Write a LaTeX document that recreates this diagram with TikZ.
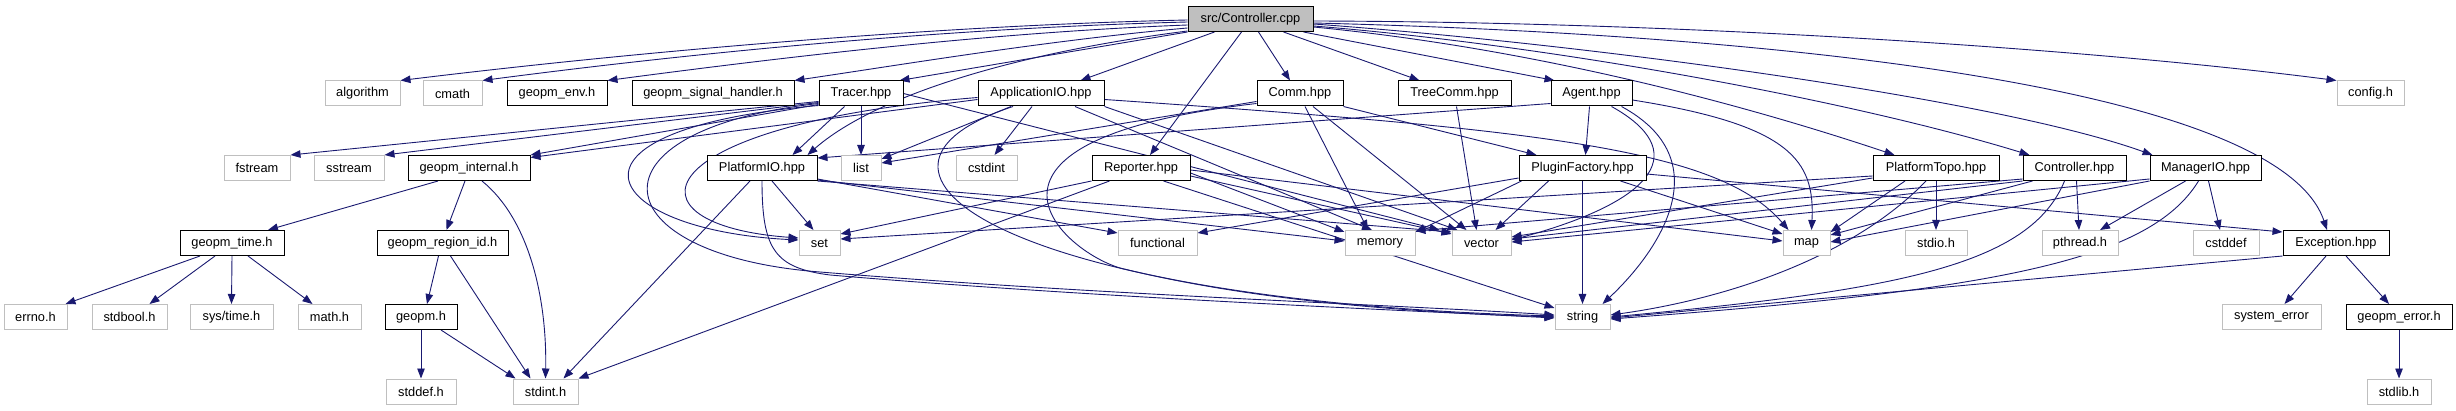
\documentclass[tikz,border=0pt]{standalone}
\usepackage{fontspec}
\setmainfont{Liberation Sans}
\usetikzlibrary{arrows.meta}
\definecolor{edgec}{HTML}{191970}
\definecolor{grayb}{HTML}{BFBFBF}
\pgfdeclarelayer{background}
\pgfsetlayers{background,main}
\begin{document}
\begin{tikzpicture}[x=1pt,y=1pt,
  box/.style={draw=black, line width=1pt, minimum height=25pt, inner sep=0pt, fill=white,
    font=\fontsize{12.8}{15}\selectfont},
  sys/.style={box, draw=grayb},
  root/.style={box, fill=grayb},
  e/.style={draw=edgec, line width=0.9pt, -{Triangle[length=10pt,width=7.5pt]}},
]
\useasboundingbox (0,0) rectangle (2456,-411);
% row 0
\node[root, minimum width=125pt] (C) at (1250.5,-19) {src/Controller.cpp};
% row 1
\node[sys, minimum width=75pt] (algorithm) at (362.5,-93.5) {algorithm};
\node[sys, minimum width=59pt] (cmath) at (452.5,-93.5) {cmath};
\node[box, minimum width=100pt] (env) at (557,-93.5) {geopm\_env.h};
\node[box, minimum width=162pt] (signal) at (713,-93.5) {geopm\_signal\_handler.h};
\node[box, minimum width=84pt] (tracer) at (861,-93.5) {Tracer.hpp};
\node[box, minimum width=126pt] (appio) at (1041,-93.5) {ApplicationIO.hpp};
\node[box, minimum width=86pt] (comm) at (1300,-93.5) {Comm.hpp};
\node[box, minimum width=113pt] (treecomm) at (1454.5,-93.5) {TreeComm.hpp};
\node[box, minimum width=81pt] (agent) at (1591.5,-93.5) {Agent.hpp};
\node[sys, minimum width=67pt] (config) at (2370.5,-93.5) {config.h};
% row 2
\node[sys, minimum width=66pt] (fstream) at (257,-168) {fstream};
\node[sys, minimum width=70pt] (sstream) at (349,-168) {sstream};
\node[box, minimum width=122pt] (internal) at (469,-168) {geopm\_internal.h};
\node[box, minimum width=110pt] (pio) at (762,-168) {PlatformIO.hpp};
\node[sys, minimum width=40pt] (list) at (861,-168) {list};
\node[sys, minimum width=61pt] (cstdint) at (986.5,-168) {cstdint};
\node[box, minimum width=98pt] (reporter) at (1141,-168) {Reporter.hpp};
\node[box, minimum width=127pt] (pfac) at (1582.5,-168) {PluginFactory.hpp};
\node[box, minimum width=126pt] (ptopo) at (1936,-168) {PlatformTopo.hpp};
\node[box, minimum width=103pt] (ctrl) at (2074.5,-168) {Controller.hpp};
\node[box, minimum width=111pt] (mio) at (2205.5,-168) {ManagerIO.hpp};
% row 3
\node[box, minimum width=104pt] (time) at (232,-243) {geopm\_time.h};
\node[box, minimum width=131pt] (regid) at (442.5,-243) {geopm\_region\_id.h};
\node[sys, minimum width=41pt] (set) at (819.5,-243) {set};
\node[sys, minimum width=79pt] (functional) at (1157.5,-243) {functional};
\node[sys, minimum width=70pt] (memory) at (1380,-243) {memory};
\node[sys, minimum width=59pt] (vector) at (1481.5,-243) {vector};
\node[sys, minimum width=47pt] (map) at (1806.5,-243) {map};
\node[sys, minimum width=62pt] (stdio) at (1936,-243) {stdio.h};
\node[sys, minimum width=76pt] (pthread) at (2080,-243) {pthread.h};
\node[sys, minimum width=66pt] (cstddef) at (2226,-243) {cstddef};
\node[box, minimum width=106pt] (exc) at (2336,-243) {Exception.hpp};
% row 4
\node[sys, minimum width=63pt] (errno) at (35.5,-317) {errno.h};
\node[sys, minimum width=75pt] (stdbool) at (129.5,-317) {stdbool.h};
\node[sys, minimum width=83pt] (systime) at (231.5,-317) {sys/time.h};
\node[sys, minimum width=63pt] (math) at (329.5,-317) {math.h};
\node[box, minimum width=72pt] (geopmh) at (421,-317) {geopm.h};
\node[sys, minimum width=55pt] (string) at (1582.5,-317) {string};
\node[sys, minimum width=99pt] (syserr) at (2271.5,-317) {system\_error};
\node[box, minimum width=106pt] (gerr) at (2399,-317) {geopm\_error.h};
% row 5
\node[sys, minimum width=70pt] (stddef) at (421,-391.5) {stddef.h};
\node[sys, minimum width=65pt] (stdint) at (545.5,-391.5) {stdint.h};
\node[sys, minimum width=64pt] (stdlib) at (2399,-391.5) {stdlib.h};

\begin{pgfonlayer}{background}
% src/Controller.cpp
\draw[e] ([yshift=-1pt]C.west) .. controls (950,-25) and (650,-50) .. (algorithm.north east);
\draw[e] ([yshift=-3pt]C.west) .. controls (950,-28) and (700,-52) .. (cmath.north east);
\draw[e] ([yshift=-6pt]C.west) .. controls (1000,-32) and (800,-55) .. (env.north east);
\draw[e] ([yshift=-9pt]C.west) .. controls (1050,-40) and (900,-65) .. (signal.north east);
\draw[e] (C.south west) -- ([xshift=-4pt]tracer.north east);
\draw[e] ([yshift=1pt]C.south west) .. controls (1000,-55) and (870,-100) .. ([xshift=-10pt]pio.north east);
\draw[e] ([xshift=27pt]C.south west) -- ([xshift=-24pt]appio.north east);
\draw[e] ([xshift=-9pt]C.south) -- ([xshift=9pt]reporter.north);
\draw[e] ([xshift=8pt]C.south) -- ([xshift=-10pt]comm.north);
\draw[e] ([xshift=33pt]C.south) -- ([xshift=-35pt]treecomm.north);
\draw[e] ([xshift=-10pt]C.south east) -- ([xshift=4pt]agent.north west);
\draw[e] ([yshift=-8pt]C.east) .. controls (1500,-45) and (1700,-90) .. ([xshift=22pt]ptopo.north west);
\draw[e] ([yshift=-7pt]C.east) .. controls (1550,-45) and (1850,-100) .. ([xshift=7pt]ctrl.north west);
\draw[e] ([yshift=-5pt]C.east) .. controls (1600,-45) and (2000,-100) .. ([xshift=3pt]mio.north west);
\draw[e] ([yshift=-2pt]C.east) .. controls (1700,-22) and (2100,-50) .. (config.north west);
\draw[e] ([yshift=-4pt]C.east) .. controls (1800,-35) and (2280,-90) .. ([xshift=-9pt]exc.north);
% Tracer.hpp
\draw[e] ([yshift=5pt]tracer.south west) -- (fstream.north east);
\draw[e] ([yshift=4pt]tracer.south west) -- (sstream.north east);
\draw[e] ([yshift=2pt]tracer.south west) -- (internal.north east);
\draw[e] ([xshift=26pt]tracer.south west) -- ([xshift=-25pt]pio.north east);
\draw[e] (tracer.south) -- (list.north);
\draw[e] ([yshift=1pt]tracer.south west) .. controls (540,-130) and (600,-230) .. ([yshift=3pt]set.west);
\draw[e] ([yshift=3pt]tracer.south west) .. controls (580,-130) and (600,-255) .. (820,-272)
   .. controls (1100,-295) and (1400,-305) .. ([yshift=2pt]string.west);
\draw[e] (tracer.east) -- ([xshift=-12pt]vector.north west);
% ApplicationIO.hpp
\draw[e] ([yshift=-6pt]appio.west) -- ([yshift=-2.5pt]internal.north east);
\draw[e] ([yshift=-4pt]appio.west) .. controls (640,-125) and (620,-225) .. ([yshift=5pt]set.west);
\draw[e] ([xshift=-30pt]appio.south) -- ([yshift=-4pt]list.north east);
\draw[e] ([xshift=-9pt]appio.south) -- ([xshift=8pt]cstdint.north);
\draw[e] ([xshift=-28pt]appio.south) .. controls (820,-170) and (1000,-300) .. ([yshift=1pt]string.west);
\draw[e] ([xshift=34pt]appio.south) -- ([xshift=-8pt]memory.north);
\draw[e] (appio.south east) -- ([xshift=6pt]vector.north west);
\draw[e] ([yshift=-6pt]appio.east) .. controls (1550,-130) and (1720,-150) .. ([xshift=6pt]map.north west);
% Comm.hpp
\draw[e] ([yshift=5pt]comm.south west) -- ([yshift=-8pt]list.north east);
\draw[e] (comm.south east) -- ([xshift=18pt]pfac.north west);
\draw[e] ([xshift=5pt]comm.south) -- ([xshift=-12pt]memory.north);
\draw[e] ([xshift=13pt]comm.south) -- ([xshift=-15pt]vector.north);
\draw[e] ([yshift=3pt]comm.south west) .. controls (940,-140) and (1060,-250) .. (1120,-268)
   .. controls (1250,-300) and (1400,-312) .. (string.west);
% TreeComm.hpp
\draw[e] ([xshift=2pt]treecomm.south) -- ([xshift=-5pt]vector.north);
% Agent.hpp
\draw[e] ([xshift=-2pt]agent.south) -- ([xshift=3pt]pfac.north);
\draw[e] ([yshift=3pt]agent.south west) -- ([yshift=-3pt]pio.north east);
\draw[e] ([xshift=20pt]agent.south) .. controls (1690,-150) and (1660,-200) .. ([yshift=3pt]vector.east);
\draw[e] ([xshift=30pt]agent.south) .. controls (1720,-160) and (1660,-250) .. ([xshift=-8pt]string.north east);
\draw[e] ([yshift=-6.5pt]agent.east) .. controls (1790,-125) and (1815,-160) .. ([xshift=5pt]map.north);
% PluginFactory.hpp
\draw[e] ([yshift=3pt]pfac.south west) -- ([yshift=-3pt]functional.north east);
\draw[e] ([xshift=3pt]pfac.south west) -- ([yshift=-2pt]memory.north east);
\draw[e] ([xshift=30pt]pfac.south west) -- ([xshift=14pt]vector.north);
\draw[e] (pfac.south) -- (string.north);
\draw[e] ([xshift=38pt]pfac.south) -- ([yshift=-4pt]map.north west);
\draw[e] ([yshift=-6pt]pfac.east) -- ([yshift=-2pt]exc.north west);
% Reporter.hpp
\draw[e] (reporter.south west) -- ([yshift=-4pt]set.north east);
\draw[e] ([xshift=18pt]reporter.south west) -- (stdint.north east);
\draw[e] ([xshift=-27pt]reporter.south east) -- ([yshift=-4pt]string.north west);
\draw[e] ([yshift=-5pt]reporter.east) -- ([yshift=-2pt]memory.north west);
\draw[e] ([yshift=-8pt]reporter.east) -- ([yshift=-4pt]vector.north west);
\draw[e] ([yshift=-2pt]reporter.east) -- ([yshift=2pt]map.west);
% PlatformIO.hpp
\draw[e] ([xshift=-12pt]pio.south) -- ([xshift=-15pt]stdint.north east);
\draw[e] ([xshift=10pt]pio.south) -- ([xshift=-6pt]set.north);
\draw[e] (pio.south) .. controls (762,-250) and (775,-268) .. (830,-275)
   .. controls (1100,-298) and (1400,-310) .. ([yshift=-1pt]string.west);
\draw[e] ([yshift=2pt]pio.south east) -- ([yshift=-3pt]functional.north west);
\draw[e] ([yshift=1pt]pio.south east) -- ([yshift=2pt]memory.west);
\draw[e] (pio.south east) -- ([yshift=-2pt]vector.north west);
% PlatformTopo.hpp
\draw[e] (ptopo.south) -- (stdio.north);
\draw[e] ([xshift=-31pt]ptopo.south) -- ([yshift=-2pt]map.north east);
\draw[e] ([xshift=-10pt]ptopo.south) .. controls (1850,-260) and (1720,-300) .. ([yshift=2pt]string.east);
\draw[e] ([yshift=-8pt]ptopo.west) -- ([yshift=4pt]set.east);
\draw[e] ([yshift=-10pt]ptopo.west) -- ([yshift=6pt]vector.east);
% Controller.hpp
\draw[e] ([xshift=2pt]ctrl.south) -- ([xshift=-1pt]pthread.north);
\draw[e] ([xshift=-10pt]ctrl.south) .. controls (2030,-265) and (1900,-290) .. (string.east);
\draw[e] (ctrl.south west) -- ([yshift=4pt]vector.east);
\draw[e] ([xshift=10pt]ctrl.south west) -- ([yshift=-5pt]map.north east);
\draw[e] ([yshift=2pt]ctrl.south west) -- ([yshift=-1pt]memory.north east);
% ManagerIO.hpp
\draw[e] ([xshift=-20pt]mio.south) -- ([xshift=20pt]pthread.north);
\draw[e] ([xshift=3pt]mio.south) -- ([xshift=-6pt]cstddef.north);
\draw[e] ([xshift=-7pt]mio.south) .. controls (2150,-260) and (2000,-290) .. ([yshift=-2pt]string.east);
\draw[e] (mio.south west) -- ([yshift=1pt]map.east);
\draw[e] ([yshift=2pt]mio.south west) -- ([yshift=1pt]vector.east);
% Exception.hpp
\draw[e] (exc.south west) -- ([yshift=-1pt]string.east);
\draw[e] ([xshift=-10pt]exc.south) -- ([xshift=13pt]syserr.north);
\draw[e] ([xshift=10pt]exc.south) -- ([xshift=-10pt]gerr.north);
\draw[e] (gerr.south) -- (stdlib.north);
% geopm_internal.h
\draw[e] ([xshift=-31pt]internal.south) -- ([xshift=36pt]time.north);
\draw[e] ([xshift=-4pt]internal.south) -- ([xshift=4pt]regid.north);
\draw[e] ([xshift=13pt]internal.south) .. controls (530,-220) and (547,-300) .. (stdint.north);
% geopm_time.h
\draw[e] ([xshift=-32pt]time.south) -- ([xshift=-2pt]errno.north east);
\draw[e] ([xshift=-17pt]time.south) -- ([xshift=20pt]stdbool.north);
\draw[e] (time.south) -- (systime.north);
\draw[e] ([xshift=16pt]time.south) -- ([xshift=-17pt]math.north);
% geopm_region_id.h
\draw[e] ([xshift=-4pt]regid.south) -- ([xshift=6pt]geopmh.north);
\draw[e] ([xshift=8pt]regid.south) -- ([xshift=-15pt]stdint.north);
% geopm.h
\draw[e] (geopmh.south) -- (stddef.north);
\draw[e] ([xshift=20pt]geopmh.south) -- ([xshift=3pt]stdint.north west);
\end{pgfonlayer}
\end{tikzpicture}
\end{document}
